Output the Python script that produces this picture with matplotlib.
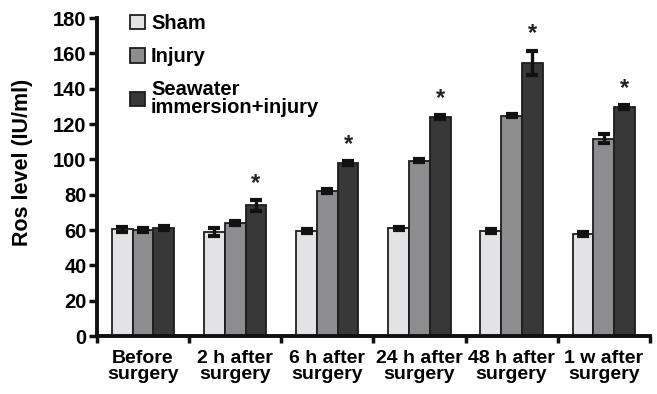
import matplotlib
matplotlib.use("Agg")
import matplotlib.pyplot as plt
import numpy as np
from matplotlib.patches import Patch

plt.rcParams['font.family'] = ['Liberation Sans', 'DejaVu Sans']
plt.rcParams['font.weight'] = 'bold'

categories = ["Before\nsurgery", "2 h after\nsurgery", "6 h after\nsurgery",
              "24 h after\nsurgery", "48 h after\nsurgery", "1 w after\nsurgery"]
series_names = ["Sham", "Injury", "Seawater\nimmersion+injury"]
sham = [60.4, 59.0, 59.6, 61.0, 59.6, 57.8]
sham_err = [1.5, 2.2, 1.0, 1.0, 1.0, 1.0]
injury = [60.0, 64.0, 82.0, 99.3, 124.8, 111.8]
injury_err = [1.2, 1.3, 1.0, 0.8, 1.0, 2.6]
seawater = [61.0, 74.0, 98.0, 124.0, 154.6, 129.8]
seawater_err = [1.2, 3.0, 1.2, 1.0, 7.0, 1.0]
significant = [False, True, True, True, True, True]

colors = ["#e3e3e5", "#8d8d90", "#383838"]
edge = "#1e1e1e"

fig = plt.figure(figsize=(6.57, 3.94), dpi=100)
ax = fig.add_axes([0.1476, 0.147, 0.8414, 0.807])

x = np.arange(len(categories))
w = 0.225
data = [(sham, sham_err), (injury, injury_err), (seawater, seawater_err)]
for i, ((vals, errs), c, name) in enumerate(zip(data, colors, series_names)):
    pos = x + (i - 1) * w
    ax.bar(pos, vals, width=w, color=c, edgecolor=edge, linewidth=1.3, label=name, zorder=2)
    ax.errorbar(pos, vals, yerr=errs, fmt='none', ecolor='#111111', elinewidth=2.4,
                capsize=4.3, capthick=3.0, zorder=3)

for xi, v, e, s in zip(x, seawater, seawater_err, significant):
    if s:
        ax.text(xi + w, v + e + 3, "*", ha='center', va='bottom', fontsize=17,
                fontweight='bold', color='#222222')

ax.set_xlim(-0.5, len(categories) - 0.5)
ax.set_ylim(0, 180)
ax.set_yticks(np.arange(0, 181, 20))
ax.set_xticks(x)
ax.set_xticklabels(categories, fontsize=14, fontweight='bold', linespacing=0.95)
ax.set_xticks(np.arange(-0.5, len(categories), 1.0), minor=True)
ax.tick_params(axis='x', which='major', length=0, pad=10)
ax.tick_params(axis='x', which='minor', length=5, width=2.5, direction='out', color='#111111')
ax.tick_params(axis='y', length=6, width=2.5, labelsize=14.5, pad=1.5, color='#111111')
for lab in ax.get_yticklabels():
    lab.set_fontweight('bold')
ax.set_ylabel("Ros level (IU/ml)", fontsize=15.5, fontweight='bold')
ax.yaxis.set_label_coords(-0.115, 0.547)

for sp in ['top', 'right']:
    ax.spines[sp].set_visible(False)
for sp in ['left', 'bottom']:
    ax.spines[sp].set_linewidth(2.8)
    ax.spines[sp].set_color('#111111')

handles = [Patch(facecolor=c, edgecolor=edge, linewidth=1.3) for c in colors]
leg = ax.legend(handles, series_names, loc='upper left', bbox_to_anchor=(0.045, 1.038),
                frameon=False, fontsize=14.5, handlelength=0.75, handleheight=0.75,
                handletextpad=0.3, labelspacing=0.7, borderaxespad=0)
for t in leg.get_texts():
    t.set_fontweight('bold')
    t.set_linespacing(0.9)

fig.savefig("out.png", dpi=100)
